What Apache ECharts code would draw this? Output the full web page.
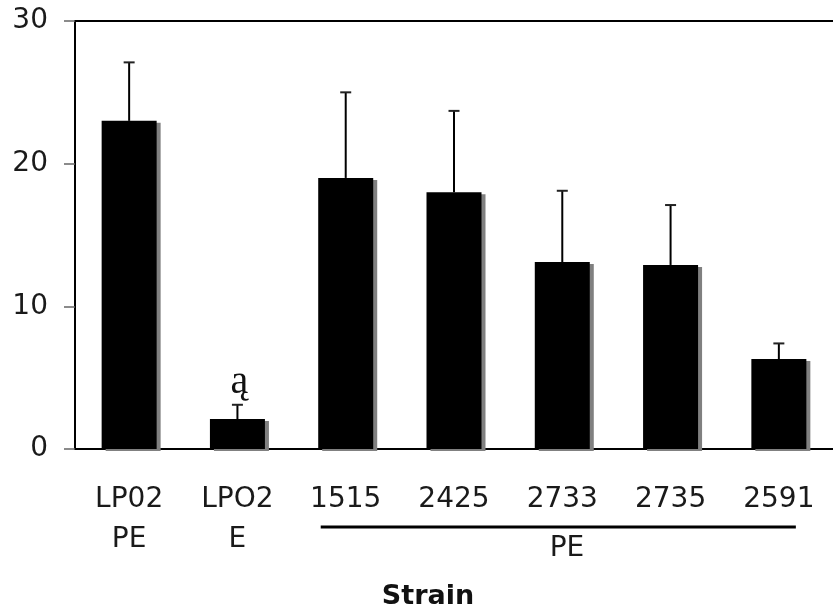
<!DOCTYPE html>
<html>
<head>
<meta charset="utf-8">
<script src="https://cdn.jsdelivr.net/npm/echarts@6/dist/echarts.min.js"></script>
<style>
html,body{margin:0;padding:0;background:#fff;}
#chart{width:833px;height:613px;}
</style>
</head>
<body>
<div id="chart"></div>
<script>
// ---- data ----
const categories = ['LP02\nPE', 'LPO2\nE', '1515', '2425', '2733', '2735', '2591'];
const means = [23.0, 2.1, 19.0, 18.0, 13.1, 12.9, 6.3];
const errorUpper = [27.1, 3.1, 25.0, 23.7, 18.1, 17.1, 7.4];
const annotations = ['', 'ą', '', '', '', '', ''];
const yTicks = [0, 10, 20, 30];
const groupLabel = 'PE';
const axisTitle = 'Strain';

const FONT = 'DejaVu Sans';
const chart = echarts.init(document.getElementById('chart'));

const errData = means.map((m, i) => [i, m, errorUpper[i]]);

chart.setOption({
  animation: false,
  backgroundColor: '#fff',
  grid: { left: 75, top: 21, right: -5, bottom: 164, containLabel: false },
  xAxis: [{
    type: 'category',
    data: categories,
    axisLine: { show: true, lineStyle: { color: '#000', width: 2 } },
    axisTick: { show: false },
    axisLabel: {
      interval: 0, margin: 31, color: '#1a1a1a', fontFamily: FONT, fontSize: 28,
      lineHeight: 40, align: 'center'
    },
    splitLine: { show: false }
  }, {
    type: 'category',
    position: 'top',
    data: categories,
    axisLine: { show: true, lineStyle: { color: '#000', width: 2 } },
    axisTick: { show: false },
    axisLabel: { show: false }
  }],
  yAxis: {
    type: 'value',
    min: yTicks[0], max: yTicks[yTicks.length - 1], interval: 10,
    axisLine: { show: true, lineStyle: { color: '#000', width: 2 } },
    axisTick: { show: true, length: 11, lineStyle: { color: '#666', width: 1.5 } },
    axisLabel: { margin: 27, color: '#1a1a1a', fontFamily: FONT, fontSize: 28 },
    splitLine: { show: false }
  },
  series: [{
    type: 'bar',
    data: means,
    barWidth: 55,
    itemStyle: {
      color: '#000',
      shadowColor: '#808080', shadowOffsetX: 4, shadowOffsetY: 2, shadowBlur: 0
    },
    z: 2
  }, {
    type: 'custom',
    data: errData,
    z: 3,
    renderItem: function (params, api) {
      const i = api.value(0);
      const p0 = api.coord([i, api.value(1)]);
      const p1 = api.coord([i, api.value(2)]);
      const children = [{
        type: 'line',
        shape: { x1: p0[0], y1: p0[1], x2: p1[0], y2: p1[1] },
        style: { stroke: '#000', lineWidth: 2 }
      }, {
        type: 'line',
        shape: { x1: p1[0] - 5.5, y1: p1[1], x2: p1[0] + 5.5, y2: p1[1] },
        style: { stroke: '#222', lineWidth: 2 }
      }];
      const t = annotations[i];
      if (t) {
        children.push({
          type: 'text',
          style: {
            text: t, x: p1[0] + 2, y: p1[1] - 2, align: 'center', verticalAlign: 'bottom',
            fill: '#111', fontFamily: 'Liberation Serif', fontSize: 40
          }
        });
      }
      return { type: 'group', children: children };
    }
  }]
});

// group line & labels under the PE strains
const c2 = chart.convertToPixel({ xAxisIndex: 0 }, categories[2]);
const c6 = chart.convertToPixel({ xAxisIndex: 0 }, categories[6]);
chart.setOption({
  graphic: [{
    type: 'line',
    shape: { x1: c2 - 25, y1: 527, x2: c6 + 17, y2: 527 },
    style: { stroke: '#000', lineWidth: 3 }
  }, {
    type: 'text',
    style: { text: groupLabel, x: 567, y: 549, align: 'center', verticalAlign: 'middle',
      fill: '#1a1a1a', fontFamily: FONT, fontSize: 28 }
  }, {
    type: 'text',
    style: { text: axisTitle, x: 428, y: 597, align: 'center', verticalAlign: 'middle',
      fill: '#111', fontFamily: FONT, fontWeight: 'bold', fontSize: 27 }
  }]
});
</script>
</body>
</html>
